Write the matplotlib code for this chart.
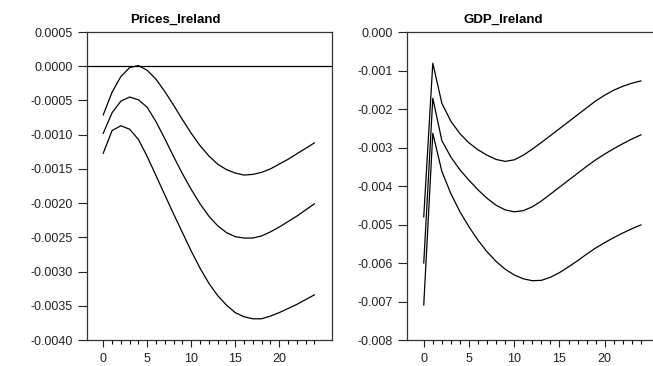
import numpy as np
import matplotlib
matplotlib.use("Agg")
import matplotlib.pyplot as plt
from matplotlib.ticker import FuncFormatter, MultipleLocator

# impulse responses, horizons 0..24
horizon = list(range(25))

prices_upper = [-0.00071, -0.00038, -0.00015, -0.00002, 0.00001, -0.00006, -0.00019,
                -0.00037, -0.00057, -0.00078, -0.00098, -0.00116, -0.00131, -0.00143,
                -0.00151, -0.00156, -0.00159, -0.00158, -0.00155, -0.00150, -0.00143,
                -0.00136, -0.00128, -0.00120, -0.00112]
prices_mid = [-0.00098, -0.00068, -0.00051, -0.00045, -0.00049, -0.00060, -0.00081,
              -0.00106, -0.00132, -0.00157, -0.00180, -0.00201, -0.00219, -0.00233,
              -0.00243, -0.00249, -0.00251, -0.00251, -0.00248, -0.00242, -0.00235,
              -0.00227, -0.00219, -0.00210, -0.00201]
prices_lower = [-0.00127, -0.00094, -0.00087, -0.00092, -0.00107, -0.00132, -0.00160,
                -0.00188, -0.00216, -0.00243, -0.00270, -0.00295, -0.00317, -0.00335,
                -0.00349, -0.00360, -0.00366, -0.00369, -0.00369, -0.00365, -0.00360,
                -0.00354, -0.00348, -0.00341, -0.00334]

gdp_upper = [-0.00480, -0.00081, -0.00185, -0.00232, -0.00264, -0.00288, -0.00306,
             -0.00320, -0.00331, -0.00336, -0.00332, -0.00320, -0.00304, -0.00287,
             -0.00269, -0.00251, -0.00233, -0.00215, -0.00197, -0.00179, -0.00164,
             -0.00151, -0.00141, -0.00133, -0.00127]
gdp_mid = [-0.00600, -0.00172, -0.00282, -0.00325, -0.00358, -0.00385, -0.00410,
           -0.00432, -0.00450, -0.00462, -0.00467, -0.00464, -0.00454, -0.00439,
           -0.00421, -0.00403, -0.00385, -0.00367, -0.00349, -0.00332, -0.00317,
           -0.00303, -0.00290, -0.00278, -0.00267]
gdp_lower = [-0.00709, -0.00263, -0.00362, -0.00420, -0.00467, -0.00506, -0.00541,
             -0.00571, -0.00596, -0.00616, -0.00631, -0.00641, -0.00646, -0.00645,
             -0.00637, -0.00625, -0.00610, -0.00594, -0.00577, -0.00561, -0.00547,
             -0.00534, -0.00522, -0.00511, -0.00501]

prices_yticks = [0.0005, 0.0, -0.0005, -0.0010, -0.0015, -0.0020, -0.0025, -0.0030, -0.0035, -0.0040]
gdp_yticks = [0.0, -0.001, -0.002, -0.003, -0.004, -0.005, -0.006, -0.007, -0.008]

plt.rcParams['font.family'] = ['Liberation Sans', 'DejaVu Sans']

fig = plt.figure(figsize=(6.53, 3.66), dpi=100)
ax1 = fig.add_axes([0.1332, 0.0710, 0.3752, 0.8415])
ax2 = fig.add_axes([0.6233, 0.0710, 0.3859, 0.8415])


def fmt(decimals):
    def f(v, pos):
        if abs(v) < 1e-12:
            v = 0.0
        return "%.*f" % (decimals, v)
    return FuncFormatter(f)


def style(ax, title, title_x, yticks, decimals):
    ax.set_xlim(-1.85, 26.0)
    ax.set_ylim(min(yticks), max(yticks))
    ax.set_yticks(yticks)
    ax.yaxis.set_major_formatter(fmt(decimals))
    ax.xaxis.set_major_locator(MultipleLocator(5))
    ax.xaxis.set_minor_locator(MultipleLocator(1))
    ax.set_xticks([0, 5, 10, 15, 20])
    ax.set_xticks(range(25), minor=True)
    ax.tick_params(axis='y', direction='out', length=6.5, width=0.8, pad=3.5,
                   labelsize=9, colors='#222222')
    ax.tick_params(axis='x', which='major', direction='out', length=5, width=0.8,
                   pad=4.5, labelsize=9, colors='#222222')
    ax.tick_params(axis='x', which='minor', direction='out', length=3, width=0.8)
    for s in ax.spines.values():
        s.set_linewidth(0.9)
        s.set_color('#333333')
    ax.set_title(title, x=title_x, pad=7, fontsize=9.5, fontweight='bold')


for y in (prices_upper, prices_mid, prices_lower):
    ax1.plot(horizon, y, color='black', lw=0.9)
ax1.axhline(0.0, color='black', lw=0.9)
style(ax1, 'Prices_Ireland', 0.359, prices_yticks, 4)

for y in (gdp_upper, gdp_mid, gdp_lower):
    ax2.plot(horizon, y, color='black', lw=0.9)
style(ax2, 'GDP_Ireland', 0.381, gdp_yticks, 3)

fig.savefig('out.png', dpi=100)
